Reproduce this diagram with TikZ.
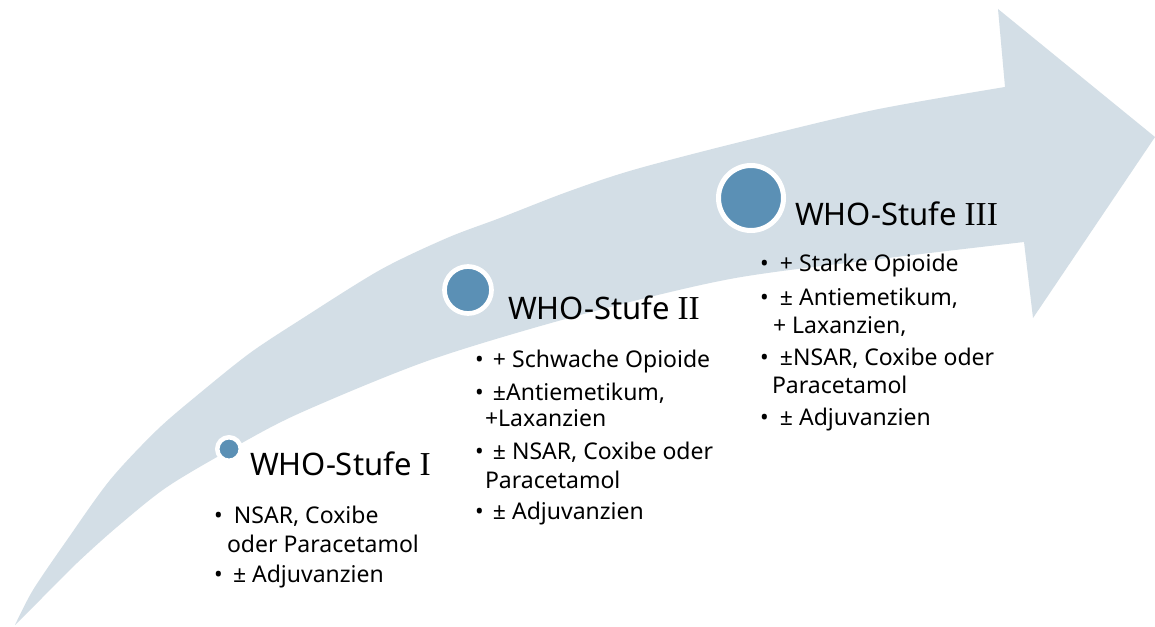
\documentclass[tikz,border=0pt]{standalone}
\usepackage{fontspec}
\setmainfont{Noto Sans}
\newfontfamily\romfont[Scale=1.08]{Liberation Serif}
\definecolor{band}{HTML}{D3DEE6}
\definecolor{dot}{HTML}{5B90B5}
\newcommand\bul[1]{\makebox[#1pt][l]{•}}
\tikzset{
  txt/.style={anchor=base west, inner sep=0pt, outer sep=0pt, font=\fontsize{23}{28}\selectfont},
  ttl/.style={anchor=base west, inner sep=0pt, outer sep=0pt, font=\fontsize{31}{36}\selectfont},
  dotnode/.style={circle, fill=dot, draw=white, inner sep=0pt},
}
\begin{document}
\begin{tikzpicture}[x=1pt,y=-1pt]
\useasboundingbox (0,0) rectangle (1155,626);
\fill[white] (0,0) rectangle (1155,626);
% big curved arrow
\fill[band] plot[smooth] coordinates {(15,625) (33,590) (67,540) (110,480) (157,430) (200,393) (250,353) (300,320) (380,270) (447,238) (500,218) (567,192) (633,170) (740,142) (874,110) (1005,87)}
  -- (998,9) -- (1155,137) -- (1033,318) -- (1024,242)
  -- plot[smooth] coordinates {(1024,242) (880,259) (730,279) (580,315) (430,360) (300,413) (233,448) (167,487) (117,527) (77,563) (40,600) (15,625)} -- cycle;
% circles
\node[dotnode, minimum size=23.5pt, line width=4.5pt] (c1) at (229,449) {};
\node[dotnode, minimum size=47pt, line width=4.7pt] (c2) at (468,290) {};
\node[dotnode, minimum size=65pt, line width=5pt] (c3) at (751,198) {};
% titles
\node[ttl] (t1) at (250,475) {WHO-Stufe {\romfont I}};
\node[ttl] (t2) at (508,319) {WHO-Stufe {\romfont II}};
\node[ttl] (t3) at (795,225) {WHO-Stufe {\romfont III}};
% stage I
\node[txt] (a1) at (214,523) {\bul{20}NSAR, Coxibe};
\node[txt] (a2) at (227,552) {oder Paracetamol};
\node[txt] (a3) at (214,582) {\bul{19}± Adjuvanzien};
% stage II
\node[txt] (b1) at (475,367) {\bul{18}+ Schwache Opioide};
\node[txt] (b2) at (475,400) {\bul{18}±Antiemetikum,};
\node[txt] (b3) at (485,426) {+Laxanzien};
\node[txt] (b4) at (475,459) {\bul{18}± NSAR, Coxibe oder};
\node[txt] (b5) at (485,488) {Paracetamol};
\node[txt] (b6) at (475,519) {\bul{18}± Adjuvanzien};
% stage III
\node[txt] (d1) at (760,271) {\bul{20}+ Starke Opioide};
\node[txt] (d2) at (760,305) {\bul{20}± Antiemetikum,};
\node[txt] (d3) at (773,333) {+ Laxanzien,};
\node[txt] (d4) at (760,365) {\bul{20}±NSAR, Coxibe oder};
\node[txt] (d5) at (772,393) {Paracetamol};
\node[txt] (d6) at (760,425) {\bul{20}± Adjuvanzien};
\end{tikzpicture}
\end{document}
